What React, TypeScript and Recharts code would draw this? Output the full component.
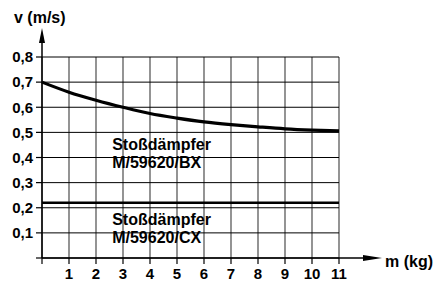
import {
  LineChart,
  Line,
  XAxis,
  YAxis,
  CartesianGrid,
  ReferenceLine,
  ReferenceDot,
} from "recharts";

const masses = [0, 1, 2, 3, 4, 5, 6, 7, 8, 9, 10, 11];
const bxSpeed = [0.7, 0.66, 0.628, 0.6, 0.575, 0.557, 0.542, 0.531, 0.522, 0.514, 0.509, 0.506];
const cxSpeed = 0.22;
const xTicks = [0, 1, 2, 3, 4, 5, 6, 7, 8, 9, 10, 11];
const yTicks = [0, 0.1, 0.2, 0.3, 0.4, 0.5, 0.6, 0.7, 0.8];
const seriesLabels = [
  { x: 2.6, y: 0.43, lines: ["Stoßdämpfer", "M/59620/BX"] },
  { x: 2.6, y: 0.131, lines: ["Stoßdämpfer", "M/59620/CX"] },
];

const W = 436;
const H = 283;
const MARGIN = { top: 57, right: 97, bottom: 0, left: 0 };
const Y_AXIS_W = 42;
const X_AXIS_H = 25;

const FONT = "'Liberation Sans', Arial, Helvetica, sans-serif";

const data = masses.map((m, i) => ({ m, bx: bxSpeed[i] }));

function TwoLineLabel(lines: string[]) {
  return (props: any) => {
    const vb = props.viewBox;
    return (
      <text fontFamily={FONT} fontWeight="bold" fontSize={16} fill="#000">
        {lines.map((t, i) => (
          <tspan key={i} x={vb.x} y={vb.y + i * 18}>
            {t}
          </tspan>
        ))}
      </text>
    );
  };
}

function AxisTitle(text: string, dx: number, dy: number) {
  return (props: any) => {
    const vb = props.viewBox;
    return (
      <text x={vb.x + dx} y={vb.y + dy} fontFamily={FONT} fontWeight="bold" fontSize={16} fill="#000">
        {text}
      </text>
    );
  };
}

// arrowheads at the ends of both axes, placed from the chart's layout box
function AxisArrows() {
  const left = MARGIN.left + Y_AXIS_W;
  const top = MARGIN.top;
  const right = W - MARGIN.right;
  const bottom = H - MARGIN.bottom - X_AXIS_H;
  const xTip = right + 43;
  const yTip = top - 29;
  return (
    <svg
      width={W}
      height={H}
      style={{ position: "absolute", left: 0, top: 0, pointerEvents: "none" }}
    >
      <line x1={right} y1={bottom} x2={xTip - 15} y2={bottom} stroke="#000" strokeWidth={1.5} />
      <path d={`M${xTip} ${bottom} L${xTip - 19} ${bottom - 3} L${xTip - 19} ${bottom + 3} Z`} fill="#000" />
      <line x1={left} y1={top} x2={left} y2={yTip + 12} stroke="#000" strokeWidth={1.5} />
      <path d={`M${left} ${yTip} L${left - 3} ${yTip + 15} L${left + 3} ${yTip + 15} Z`} fill="#000" />
    </svg>
  );
}

const tickStyle = { fontFamily: FONT, fontWeight: "bold", fontSize: 15, fill: "#000" };

export default function App() {
  return (
    <div style={{ position: "absolute", left: 0, top: 0, width: W, height: H, background: "#fff" }}>
      <LineChart width={W} height={H} data={data} margin={MARGIN}>
        <CartesianGrid horizontal={false} stroke="#666" strokeWidth={1.4} />
        <CartesianGrid vertical={false} stroke="#000" strokeWidth={1} />
        <XAxis
          dataKey="m"
          type="number"
          domain={[0, 11]}
          ticks={xTicks}
          interval={0}
          height={X_AXIS_H}
          tickSize={6}
          tickMargin={4}
          axisLine={{ stroke: "#000", strokeWidth: 1.5 }}
          tickLine={{ stroke: "#000", strokeWidth: 1.2 }}
          tick={tickStyle}
          tickFormatter={(v) => (v === 0 ? "" : String(v))}
          label={{ content: AxisTitle("m (kg)", 343, 9) }}
        />
        <YAxis
          type="number"
          domain={[0, 0.8]}
          ticks={yTicks}
          interval={0}
          width={Y_AXIS_W}
          tickSize={6}
          tickMargin={3}
          axisLine={{ stroke: "#000", strokeWidth: 1.5 }}
          tickLine={{ stroke: "#000", strokeWidth: 1.2 }}
          tick={tickStyle}
          tickFormatter={(v) => (v === 0 ? "" : v.toFixed(1).replace(".", ","))}
          label={{ content: AxisTitle("v (m/s)", 14, -34) }}
        />
        <ReferenceLine y={cxSpeed} stroke="#000" strokeWidth={2.6} />
        <Line
          type="monotone"
          dataKey="bx"
          stroke="#000"
          strokeWidth={3.2}
          dot={false}
          isAnimationActive={false}
        />
        {seriesLabels.map((l, i) => (
          <ReferenceDot
            key={i}
            x={l.x}
            y={l.y}
            r={0}
            fill="none"
            stroke="none"
            label={{ content: TwoLineLabel(l.lines) }}
          />
        ))}
      </LineChart>
      <AxisArrows />
    </div>
  );
}
